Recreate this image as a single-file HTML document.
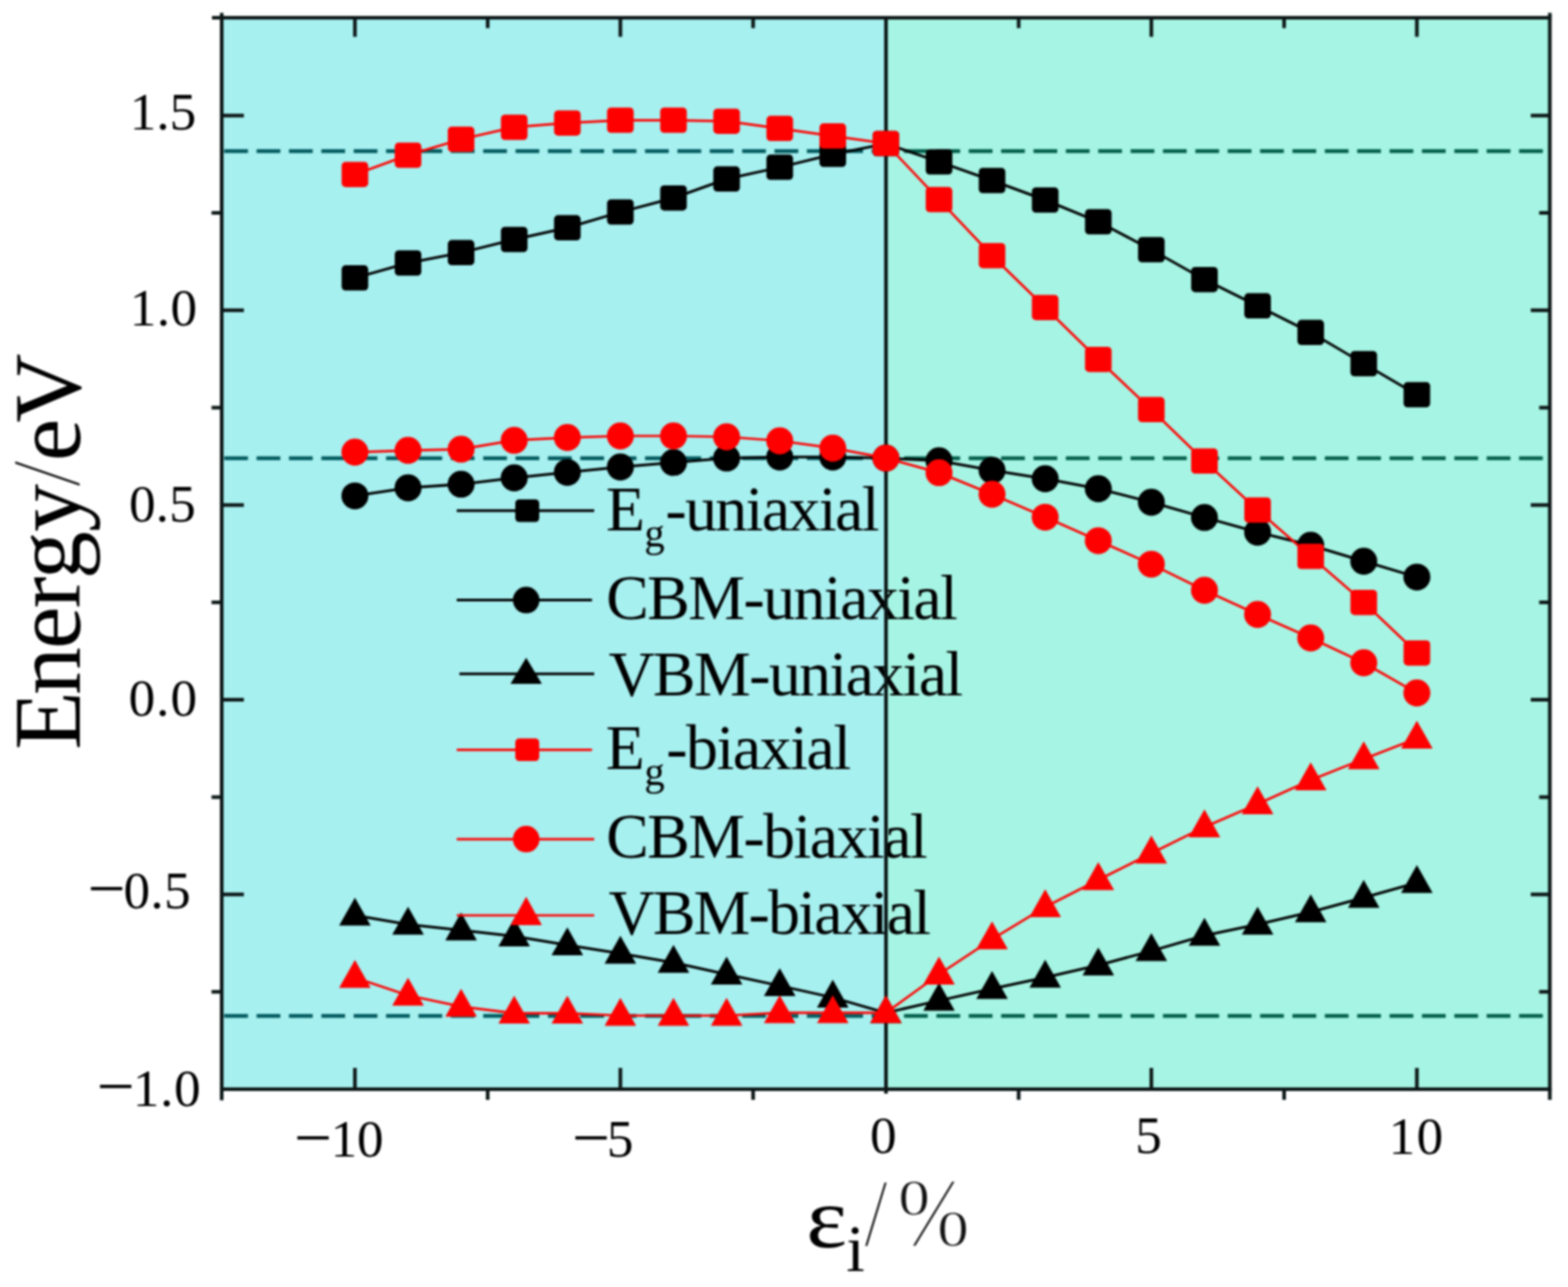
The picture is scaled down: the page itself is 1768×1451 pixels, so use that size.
<!DOCTYPE html>
<html lang="en">
<head>
<meta charset="utf-8">
<title>Energy vs strain</title>
<style>
html,body{margin:0;padding:0;background:#fff;}
body{width:1768px;height:1451px;overflow:hidden;}
svg{display:block;}
text{font-family:"Liberation Serif","DejaVu Serif",serif;fill:#000;white-space:pre;}
.tk{font-size:60px;}
.lg{font-size:72px;}
.ti{font-size:108px;}
.thin{stroke:#fff;stroke-width:2.4px;fill:#111;}
</style>
</head>
<body>
<svg width="1768" height="1451" viewBox="0 0 1768 1451">
<defs><filter id="soft" x="0" y="0" width="1768" height="1451" filterUnits="userSpaceOnUse" color-interpolation-filters="sRGB"><feGaussianBlur stdDeviation="0.9"/></filter></defs>
<g filter="url(#soft)">
<rect x="-20" y="-20" width="1808" height="1491" fill="#ffffff"/>

<rect x="250" y="20" width="749" height="1208" fill="#a7f0f0"/>
<rect x="999" y="20" width="748.5" height="1208" fill="#a6f5e4"/>
<line x1="252.8" y1="170.4" x2="999" y2="170.4" stroke="#00585c" stroke-width="4.2" stroke-dasharray="26.8 9.7"/>
<line x1="999" y1="170.4" x2="1745" y2="170.4" stroke="#005c48" stroke-width="4.2" stroke-dasharray="26.8 9.7" stroke-dashoffset="16.2"/>
<line x1="252.8" y1="516.6" x2="999" y2="516.6" stroke="#00585c" stroke-width="4.2" stroke-dasharray="26.8 9.7"/>
<line x1="999" y1="516.6" x2="1745" y2="516.6" stroke="#005c48" stroke-width="4.2" stroke-dasharray="26.8 9.7" stroke-dashoffset="16.2"/>
<line x1="252.8" y1="1145.3" x2="999" y2="1145.3" stroke="#00585c" stroke-width="4.2" stroke-dasharray="26.8 9.7"/>
<line x1="999" y1="1145.3" x2="1745" y2="1145.3" stroke="#005c48" stroke-width="4.2" stroke-dasharray="26.8 9.7" stroke-dashoffset="16.2"/>
<g id="legend-text">
<text class="lg" x="683.23" y="597.9">E<tspan x="726.42" y="615.6" font-size="46px">g</tspan><tspan x="750.23" y="597.9" letter-spacing="-1.811">-uniaxial</tspan></text>
<text class="lg" x="683.55" y="697.6" letter-spacing="-1.77">CBM-uniaxial</text>
<text class="lg" x="686.19" y="783.9" letter-spacing="-1.826">VBM-uniaxial</text>
<text class="lg" x="683.03" y="866.9">E<tspan x="726.42" y="885.4" font-size="46px">g</tspan><tspan x="751.23" y="866.9" letter-spacing="-1.641">-biaxial</tspan></text>
<text class="lg" x="683.55" y="967.3" letter-spacing="-1.757">CBM-biaxial</text>
<text class="lg" x="686.19" y="1052.9" letter-spacing="-2.049">VBM-biaxial</text>
</g>
<line x1="999" y1="20" x2="999" y2="1233" stroke="#0c1616" stroke-width="4.1"/>
<g id="data">
<polyline points="400.2,313.4 460.1,296.5 519.9,284.9 579.8,270.0 639.7,256.8 699.5,239.1 759.4,223.2 819.3,201.8 879.2,188.6 939.0,174.0 998.9,162.0 1058.8,182.4 1118.6,203.5 1178.5,225.5 1238.4,250.0 1298.2,281.5 1358.1,315.2 1418.0,344.8 1477.9,374.8 1537.7,410.0 1597.6,445.0" fill="none" stroke="#000" stroke-width="3.0"/>
<rect x="385.2" y="299.1" width="30.0" height="28.5" rx="4.5" fill="#000"/>
<rect x="445.1" y="282.2" width="30.0" height="28.5" rx="4.5" fill="#000"/>
<rect x="504.9" y="270.6" width="30.0" height="28.5" rx="4.5" fill="#000"/>
<rect x="564.8" y="255.8" width="30.0" height="28.5" rx="4.5" fill="#000"/>
<rect x="624.7" y="242.6" width="30.0" height="28.5" rx="4.5" fill="#000"/>
<rect x="684.5" y="224.8" width="30.0" height="28.5" rx="4.5" fill="#000"/>
<rect x="744.4" y="208.9" width="30.0" height="28.5" rx="4.5" fill="#000"/>
<rect x="804.3" y="187.6" width="30.0" height="28.5" rx="4.5" fill="#000"/>
<rect x="864.2" y="174.3" width="30.0" height="28.5" rx="4.5" fill="#000"/>
<rect x="924.0" y="159.8" width="30.0" height="28.5" rx="4.5" fill="#000"/>
<rect x="983.9" y="147.8" width="30.0" height="28.5" rx="4.5" fill="#000"/>
<rect x="1043.8" y="168.2" width="30.0" height="28.5" rx="4.5" fill="#000"/>
<rect x="1103.6" y="189.2" width="30.0" height="28.5" rx="4.5" fill="#000"/>
<rect x="1163.5" y="211.2" width="30.0" height="28.5" rx="4.5" fill="#000"/>
<rect x="1223.4" y="235.8" width="30.0" height="28.5" rx="4.5" fill="#000"/>
<rect x="1283.2" y="267.2" width="30.0" height="28.5" rx="4.5" fill="#000"/>
<rect x="1343.1" y="300.9" width="30.0" height="28.5" rx="4.5" fill="#000"/>
<rect x="1403.0" y="330.6" width="30.0" height="28.5" rx="4.5" fill="#000"/>
<rect x="1462.9" y="360.6" width="30.0" height="28.5" rx="4.5" fill="#000"/>
<rect x="1522.7" y="395.8" width="30.0" height="28.5" rx="4.5" fill="#000"/>
<rect x="1582.6" y="430.8" width="30.0" height="28.5" rx="4.5" fill="#000"/>
<polyline points="400.2,559.1 460.1,550.0 519.9,545.9 579.8,538.8 639.7,532.6 699.5,526.5 759.4,521.4 819.3,516.4 879.2,515.3 939.0,515.3 998.9,516.4 1058.8,519.5 1118.6,530.2 1178.5,539.7 1238.4,551.0 1298.2,566.2 1358.1,583.4 1418.0,600.0 1477.9,614.8 1537.7,632.7 1597.6,650.6" fill="none" stroke="#000" stroke-width="3.0"/>
<circle cx="400.2" cy="559.1" r="15.2" fill="#000"/>
<circle cx="460.1" cy="550.0" r="15.2" fill="#000"/>
<circle cx="519.9" cy="545.9" r="15.2" fill="#000"/>
<circle cx="579.8" cy="538.8" r="15.2" fill="#000"/>
<circle cx="639.7" cy="532.6" r="15.2" fill="#000"/>
<circle cx="699.5" cy="526.5" r="15.2" fill="#000"/>
<circle cx="759.4" cy="521.4" r="15.2" fill="#000"/>
<circle cx="819.3" cy="516.4" r="15.2" fill="#000"/>
<circle cx="879.2" cy="515.3" r="15.2" fill="#000"/>
<circle cx="939.0" cy="515.3" r="15.2" fill="#000"/>
<circle cx="998.9" cy="516.4" r="15.2" fill="#000"/>
<circle cx="1058.8" cy="519.5" r="15.2" fill="#000"/>
<circle cx="1118.6" cy="530.2" r="15.2" fill="#000"/>
<circle cx="1178.5" cy="539.7" r="15.2" fill="#000"/>
<circle cx="1238.4" cy="551.0" r="15.2" fill="#000"/>
<circle cx="1298.2" cy="566.2" r="15.2" fill="#000"/>
<circle cx="1358.1" cy="583.4" r="15.2" fill="#000"/>
<circle cx="1418.0" cy="600.0" r="15.2" fill="#000"/>
<circle cx="1477.9" cy="614.8" r="15.2" fill="#000"/>
<circle cx="1537.7" cy="632.7" r="15.2" fill="#000"/>
<circle cx="1597.6" cy="650.6" r="15.2" fill="#000"/>
<polyline points="400.2,1032.0 460.1,1042.2 519.9,1048.7 579.8,1055.4 639.7,1065.5 699.5,1075.0 759.4,1085.3 819.3,1098.5 879.2,1111.4 939.0,1124.6 998.9,1141.9 1058.8,1128.1 1118.6,1114.8 1178.5,1102.0 1238.4,1088.3 1298.2,1072.1 1358.1,1054.8 1418.0,1042.2 1477.9,1028.3 1537.7,1012.0 1597.6,995.3" fill="none" stroke="#000" stroke-width="3.0"/>
<polygon points="400.2,1012.0 418.0,1043.5 382.4,1043.5" fill="#000"/>
<polygon points="460.1,1022.2 477.9,1053.7 442.3,1053.7" fill="#000"/>
<polygon points="519.9,1028.7 537.7,1060.2 502.1,1060.2" fill="#000"/>
<polygon points="579.8,1035.4 597.6,1066.9 562.0,1066.9" fill="#000"/>
<polygon points="639.7,1045.5 657.5,1077.0 621.9,1077.0" fill="#000"/>
<polygon points="699.5,1055.0 717.3,1086.5 681.7,1086.5" fill="#000"/>
<polygon points="759.4,1065.3 777.2,1096.8 741.6,1096.8" fill="#000"/>
<polygon points="819.3,1078.5 837.1,1110.0 801.5,1110.0" fill="#000"/>
<polygon points="879.2,1091.4 897.0,1122.9 861.4,1122.9" fill="#000"/>
<polygon points="939.0,1104.6 956.8,1136.1 921.2,1136.1" fill="#000"/>
<polygon points="998.9,1121.9 1016.7,1153.4 981.1,1153.4" fill="#000"/>
<polygon points="1058.8,1108.1 1076.6,1139.6 1041.0,1139.6" fill="#000"/>
<polygon points="1118.6,1094.8 1136.4,1126.3 1100.8,1126.3" fill="#000"/>
<polygon points="1178.5,1082.0 1196.3,1113.5 1160.7,1113.5" fill="#000"/>
<polygon points="1238.4,1068.3 1256.2,1099.8 1220.6,1099.8" fill="#000"/>
<polygon points="1298.2,1052.1 1316.0,1083.6 1280.4,1083.6" fill="#000"/>
<polygon points="1358.1,1034.8 1375.9,1066.3 1340.3,1066.3" fill="#000"/>
<polygon points="1418.0,1022.2 1435.8,1053.7 1400.2,1053.7" fill="#000"/>
<polygon points="1477.9,1008.3 1495.7,1039.8 1460.1,1039.8" fill="#000"/>
<polygon points="1537.7,992.0 1555.5,1023.5 1519.9,1023.5" fill="#000"/>
<polygon points="1597.6,975.3 1615.4,1006.8 1579.8,1006.8" fill="#000"/>
<polyline points="400.2,196.7 460.1,174.9 519.9,157.0 579.8,143.4 639.7,138.7 699.5,135.6 759.4,135.6 819.3,136.7 879.2,144.8 939.0,153.3 998.9,161.7 1058.8,225.1 1118.6,288.2 1178.5,346.7 1238.4,405.2 1298.2,461.8 1358.1,519.8 1418.0,575.0 1477.9,627.2 1537.7,679.1 1597.6,736.1" fill="none" stroke="#ff0000" stroke-width="2.7"/>
<rect x="385.2" y="182.4" width="30.0" height="28.5" rx="4.5" fill="#ff0000"/>
<rect x="445.1" y="160.7" width="30.0" height="28.5" rx="4.5" fill="#ff0000"/>
<rect x="504.9" y="142.8" width="30.0" height="28.5" rx="4.5" fill="#ff0000"/>
<rect x="564.8" y="129.2" width="30.0" height="28.5" rx="4.5" fill="#ff0000"/>
<rect x="624.7" y="124.4" width="30.0" height="28.5" rx="4.5" fill="#ff0000"/>
<rect x="684.5" y="121.3" width="30.0" height="28.5" rx="4.5" fill="#ff0000"/>
<rect x="744.4" y="121.3" width="30.0" height="28.5" rx="4.5" fill="#ff0000"/>
<rect x="804.3" y="122.4" width="30.0" height="28.5" rx="4.5" fill="#ff0000"/>
<rect x="864.2" y="130.6" width="30.0" height="28.5" rx="4.5" fill="#ff0000"/>
<rect x="924.0" y="139.1" width="30.0" height="28.5" rx="4.5" fill="#ff0000"/>
<rect x="983.9" y="147.4" width="30.0" height="28.5" rx="4.5" fill="#ff0000"/>
<rect x="1043.8" y="210.8" width="30.0" height="28.5" rx="4.5" fill="#ff0000"/>
<rect x="1103.6" y="273.9" width="30.0" height="28.5" rx="4.5" fill="#ff0000"/>
<rect x="1163.5" y="332.4" width="30.0" height="28.5" rx="4.5" fill="#ff0000"/>
<rect x="1223.4" y="390.9" width="30.0" height="28.5" rx="4.5" fill="#ff0000"/>
<rect x="1283.2" y="447.6" width="30.0" height="28.5" rx="4.5" fill="#ff0000"/>
<rect x="1343.1" y="505.5" width="30.0" height="28.5" rx="4.5" fill="#ff0000"/>
<rect x="1403.0" y="560.8" width="30.0" height="28.5" rx="4.5" fill="#ff0000"/>
<rect x="1462.9" y="613.0" width="30.0" height="28.5" rx="4.5" fill="#ff0000"/>
<rect x="1522.7" y="664.9" width="30.0" height="28.5" rx="4.5" fill="#ff0000"/>
<rect x="1582.6" y="721.9" width="30.0" height="28.5" rx="4.5" fill="#ff0000"/>
<polyline points="400.2,509.8 460.1,507.8 519.9,506.4 579.8,496.4 639.7,493.3 699.5,491.5 759.4,491.5 819.3,492.5 879.2,497.0 939.0,505.2 998.9,516.4 1058.8,532.9 1118.6,557.3 1178.5,583.1 1238.4,609.6 1298.2,636.1 1358.1,665.5 1418.0,692.8 1477.9,719.2 1537.7,747.3 1597.6,781.3" fill="none" stroke="#ff0000" stroke-width="2.7"/>
<circle cx="400.2" cy="509.8" r="15.2" fill="#ff0000"/>
<circle cx="460.1" cy="507.8" r="15.2" fill="#ff0000"/>
<circle cx="519.9" cy="506.4" r="15.2" fill="#ff0000"/>
<circle cx="579.8" cy="496.4" r="15.2" fill="#ff0000"/>
<circle cx="639.7" cy="493.3" r="15.2" fill="#ff0000"/>
<circle cx="699.5" cy="491.5" r="15.2" fill="#ff0000"/>
<circle cx="759.4" cy="491.5" r="15.2" fill="#ff0000"/>
<circle cx="819.3" cy="492.5" r="15.2" fill="#ff0000"/>
<circle cx="879.2" cy="497.0" r="15.2" fill="#ff0000"/>
<circle cx="939.0" cy="505.2" r="15.2" fill="#ff0000"/>
<circle cx="998.9" cy="516.4" r="15.2" fill="#ff0000"/>
<circle cx="1058.8" cy="532.9" r="15.2" fill="#ff0000"/>
<circle cx="1118.6" cy="557.3" r="15.2" fill="#ff0000"/>
<circle cx="1178.5" cy="583.1" r="15.2" fill="#ff0000"/>
<circle cx="1238.4" cy="609.6" r="15.2" fill="#ff0000"/>
<circle cx="1298.2" cy="636.1" r="15.2" fill="#ff0000"/>
<circle cx="1358.1" cy="665.5" r="15.2" fill="#ff0000"/>
<circle cx="1418.0" cy="692.8" r="15.2" fill="#ff0000"/>
<circle cx="1477.9" cy="719.2" r="15.2" fill="#ff0000"/>
<circle cx="1537.7" cy="747.3" r="15.2" fill="#ff0000"/>
<circle cx="1597.6" cy="781.3" r="15.2" fill="#ff0000"/>
<polyline points="400.2,1102.2 460.1,1122.2 519.9,1134.8 579.8,1142.4 639.7,1142.4 699.5,1145.0 759.4,1145.0 819.3,1145.0 879.2,1141.9 939.0,1141.9 998.9,1141.9 1058.8,1098.5 1118.6,1058.8 1178.5,1022.6 1238.4,992.0 1298.2,962.0 1358.1,932.4 1418.0,906.4 1477.9,879.5 1537.7,855.7 1597.6,832.6" fill="none" stroke="#ff0000" stroke-width="2.7"/>
<polygon points="400.2,1082.2 418.0,1113.7 382.4,1113.7" fill="#ff0000"/>
<polygon points="460.1,1102.2 477.9,1133.7 442.3,1133.7" fill="#ff0000"/>
<polygon points="519.9,1114.8 537.7,1146.3 502.1,1146.3" fill="#ff0000"/>
<polygon points="579.8,1122.4 597.6,1153.9 562.0,1153.9" fill="#ff0000"/>
<polygon points="639.7,1122.4 657.5,1153.9 621.9,1153.9" fill="#ff0000"/>
<polygon points="699.5,1125.0 717.3,1156.5 681.7,1156.5" fill="#ff0000"/>
<polygon points="759.4,1125.0 777.2,1156.5 741.6,1156.5" fill="#ff0000"/>
<polygon points="819.3,1125.0 837.1,1156.5 801.5,1156.5" fill="#ff0000"/>
<polygon points="879.2,1121.9 897.0,1153.4 861.4,1153.4" fill="#ff0000"/>
<polygon points="939.0,1121.9 956.8,1153.4 921.2,1153.4" fill="#ff0000"/>
<polygon points="998.9,1121.9 1016.7,1153.4 981.1,1153.4" fill="#ff0000"/>
<polygon points="1058.8,1078.5 1076.6,1110.0 1041.0,1110.0" fill="#ff0000"/>
<polygon points="1118.6,1038.8 1136.4,1070.3 1100.8,1070.3" fill="#ff0000"/>
<polygon points="1178.5,1002.6 1196.3,1034.1 1160.7,1034.1" fill="#ff0000"/>
<polygon points="1238.4,972.0 1256.2,1003.5 1220.6,1003.5" fill="#ff0000"/>
<polygon points="1298.2,942.0 1316.0,973.5 1280.4,973.5" fill="#ff0000"/>
<polygon points="1358.1,912.4 1375.9,943.9 1340.3,943.9" fill="#ff0000"/>
<polygon points="1418.0,886.4 1435.8,917.9 1400.2,917.9" fill="#ff0000"/>
<polygon points="1477.9,859.5 1495.7,891.0 1460.1,891.0" fill="#ff0000"/>
<polygon points="1537.7,835.7 1555.5,867.2 1519.9,867.2" fill="#ff0000"/>
<polygon points="1597.6,812.6 1615.4,844.1 1579.8,844.1" fill="#ff0000"/>
</g>
<g id="legend-sym">
<line x1="515" y1="575.8" x2="670" y2="575.8" stroke="#000" stroke-width="3.0"/>
<rect x="581.0" y="563.0" width="27" height="25.5" rx="4.5" fill="#000"/>
<line x1="515" y1="676.6" x2="667.5" y2="676.6" stroke="#000" stroke-width="3.0"/>
<circle cx="593.3" cy="676.6" r="15" fill="#000"/>
<line x1="518" y1="759.7" x2="670" y2="759.7" stroke="#000" stroke-width="3.0"/>
<polygon points="593.3,741.5 611,771 575.6,771" fill="#000"/>
<line x1="515" y1="845.3" x2="667.5" y2="845.3" stroke="#ff0000" stroke-width="2.7"/>
<rect x="581.0" y="832.5" width="27" height="25.5" rx="4.5" fill="#ff0000"/>
<line x1="515" y1="946.1" x2="670" y2="946.1" stroke="#ff0000" stroke-width="2.7"/>
<circle cx="593.3" cy="946.1" r="15" fill="#ff0000"/>
<line x1="515" y1="1032.0" x2="670" y2="1032.0" stroke="#ff0000" stroke-width="2.7"/>
<polygon points="593.3,1011 611,1043 575.6,1043" fill="#ff0000"/>
</g>
<g id="axes" stroke="#0c1616" stroke-width="4.1" fill="none">
<line x1="250" y1="14.5" x2="250" y2="1240.5"/>
<line x1="1747.5" y1="14.5" x2="1747.5" y2="1240"/>
<line x1="239" y1="20" x2="1749.2" y2="20"/>
<line x1="248.3" y1="1228" x2="1749.2" y2="1228"/>
<line x1="250" y1="130.3" x2="275" y2="130.3"/>
<line x1="1726" y1="130.3" x2="1747.5" y2="130.3"/>
<line x1="250" y1="349.8" x2="275" y2="349.8"/>
<line x1="1726" y1="349.8" x2="1747.5" y2="349.8"/>
<line x1="250" y1="569.4" x2="275" y2="569.4"/>
<line x1="1726" y1="569.4" x2="1747.5" y2="569.4"/>
<line x1="250" y1="788.9" x2="275" y2="788.9"/>
<line x1="1726" y1="788.9" x2="1747.5" y2="788.9"/>
<line x1="250" y1="1008.4" x2="275" y2="1008.4"/>
<line x1="1726" y1="1008.4" x2="1747.5" y2="1008.4"/>
<line x1="238.5" y1="240.0" x2="250" y2="240.0"/>
<line x1="1735.5" y1="240.0" x2="1747.5" y2="240.0"/>
<line x1="238.5" y1="459.6" x2="250" y2="459.6"/>
<line x1="1735.5" y1="459.6" x2="1747.5" y2="459.6"/>
<line x1="238.5" y1="679.1" x2="250" y2="679.1"/>
<line x1="1735.5" y1="679.1" x2="1747.5" y2="679.1"/>
<line x1="238.5" y1="898.7" x2="250" y2="898.7"/>
<line x1="1735.5" y1="898.7" x2="1747.5" y2="898.7"/>
<line x1="238.5" y1="1118.2" x2="250" y2="1118.2"/>
<line x1="1735.5" y1="1118.2" x2="1747.5" y2="1118.2"/>
<line x1="400.2" y1="1204" x2="400.2" y2="1228"/>
<line x1="400.2" y1="20" x2="400.2" y2="41.5"/>
<line x1="699.5" y1="1204" x2="699.5" y2="1228"/>
<line x1="699.5" y1="20" x2="699.5" y2="41.5"/>
<line x1="1298.2" y1="1204" x2="1298.2" y2="1228"/>
<line x1="1298.2" y1="20" x2="1298.2" y2="41.5"/>
<line x1="1597.6" y1="1204" x2="1597.6" y2="1228"/>
<line x1="1597.6" y1="20" x2="1597.6" y2="41.5"/>
<line x1="549.9" y1="1228" x2="549.9" y2="1240"/>
<line x1="549.9" y1="20" x2="549.9" y2="31.7"/>
<line x1="849.2" y1="1228" x2="849.2" y2="1240"/>
<line x1="849.2" y1="20" x2="849.2" y2="31.7"/>
<line x1="1148.6" y1="1228" x2="1148.6" y2="1240"/>
<line x1="1148.6" y1="20" x2="1148.6" y2="31.7"/>
<line x1="1447.9" y1="1228" x2="1447.9" y2="1240"/>
<line x1="1447.9" y1="20" x2="1447.9" y2="31.7"/>
</g>
<g id="ticklabels">
<text class="tk" x="146.33" y="145.7" letter-spacing="-0.041">1.5</text>
<text class="tk" x="146.33" y="366.8" letter-spacing="0.479">1.0</text>
<text class="tk" x="145.41" y="587.6" letter-spacing="0.164">0.5</text>
<text class="tk" x="144.91" y="807.0" letter-spacing="1.185">0.0</text>
<text class="tk" x="98.81" y="1027.4"><tspan font-size="76px">−</tspan><tspan x="139.21" y="1023.8" letter-spacing="0.414">0.5</tspan></text>
<text class="tk" x="109.01" y="1250.4"><tspan font-size="76px">−</tspan><tspan x="149.73" y="1246.8" letter-spacing="0.779">1.0</tspan></text>
<text class="tk" x="331.51" y="1307.6"><tspan font-size="76px">−</tspan><tspan x="372.73" y="1304" letter-spacing="-0.341">10</tspan></text>
<text class="tk" x="645.11" y="1307.6"><tspan font-size="76px">−</tspan><tspan x="684.21" y="1304" letter-spacing="0">5</tspan></text>
<text class="tk" x="981.01" y="1299.6" letter-spacing="0">0</text>
<text class="tk" x="1280.01" y="1299.6" letter-spacing="0">5</text>
<text class="tk" x="1565.83" y="1301" letter-spacing="1.359">10</text>
</g>
<text class="ti" transform="translate(89.5,842.1) rotate(-90)" x="-3.1 58.6 110.3 156.2 189.1 242.5 292.7 322.2 365.7" y="0">Energy<tspan class="thin" font-size="112px">/</tspan>eV</text>
<text class="ti" y="1405.6"><tspan x="909.1" font-size="98px" textLength="46.1" lengthAdjust="spacingAndGlyphs">ε</tspan><tspan x="954.2" y="1433" font-size="75px">i</tspan><tspan x="974" y="1405.2" class="thin" font-size="111px" textLength="27.3" lengthAdjust="spacingAndGlyphs">/</tspan><tspan x="1011.8" y="1405.2" class="thin" font-size="111px" textLength="81.8" lengthAdjust="spacingAndGlyphs">%</tspan></text>
</g>
</svg>
</body>
</html>
